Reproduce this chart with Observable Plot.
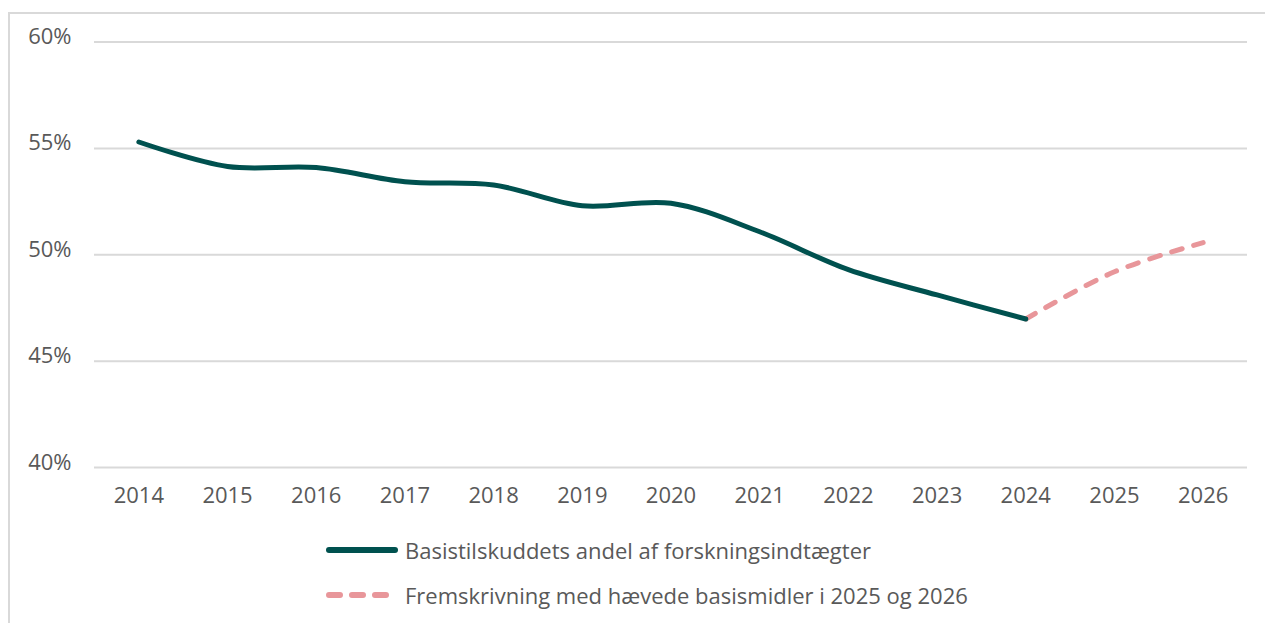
<!DOCTYPE html>
<html>
<head>
<meta charset="utf-8">
<script src="https://cdn.jsdelivr.net/npm/d3@7"></script>
<script src="https://cdn.jsdelivr.net/npm/@observablehq/plot@0.6"></script>
<style>
  html, body { margin: 0; padding: 0; background: #fff; }
  body { width: 1265px; height: 623px; position: relative; overflow: hidden; font-family: "Open Sans", "Liberation Sans", Arial, sans-serif; }
  #frame { position: absolute; left: 8px; top: 12px; width: 1265px; height: 620px; border-left: 2px solid #d9d9d9; border-top: 2px solid #d9d9d9; }
  #chart { position: absolute; left: 0; top: 0; }
  .legend { position: absolute; left: 326px; display: flex; align-items: center; color: #595959; font-size: 22px; line-height: 28px; }
  .legend svg { margin-right: 7px; }
</style>
</head>
<body>
<div id="frame"></div>
<div id="chart"></div>
<div class="legend" id="leg1" style="top: 536px;"></div>
<div class="legend" id="leg2" style="top: 581px;"></div>
<script>
const years = ["2014","2015","2016","2017","2018","2019","2020","2021","2022","2023","2024","2025","2026"];
const actualYears = ["2014","2015","2016","2017","2018","2019","2020","2021","2022","2023","2024"];
const actualValues = [55.3, 54.15, 54.1, 53.43, 53.28, 52.3, 52.42, 51.08, 49.3, 48.11, 46.98];
const projYears = ["2024","2025","2026"];
const projValues = [46.98, 49.2, 50.57];
const yTicks = [40, 45, 50, 55, 60];
const seriesNames = ["Basistilskuddets andel af forskningsindtægter", "Fremskrivning med hævede basismidler i 2025 og 2026"];
const colors = ["#00514f", "#e8969a"];

const actual = actualYears.map((y, i) => ({year: y, value: actualValues[i]}));
const proj = projYears.map((y, i) => ({year: y, value: projValues[i]}));

const chart = Plot.plot({
  width: 1265,
  height: 520,
  marginTop: 41.5,
  marginBottom: 53,
  marginLeft: 94,
  marginRight: 18,
  style: {fontFamily: "'Open Sans', 'Liberation Sans', Arial, sans-serif", fontSize: "22px", color: "#595959", background: "transparent"},
  x: {type: "point", domain: years, padding: 0.5, round: false},
  y: {domain: [40, 60]},
  marks: [
    Plot.ruleY(yTicks, {stroke: "#d9d9d9", strokeWidth: 2}),
    Plot.axisY(yTicks, {tickSize: 0, tickPadding: 23, dy: -5, tickFormat: d => d + "%", label: null, fill: "#595959"}),
    Plot.axisX({tickSize: 0, tickPadding: 20, label: null, fill: "#595959"}),
    Plot.line(proj, {x: "year", y: "value", stroke: colors[1], strokeWidth: 5, strokeDasharray: "11,12", strokeLinecap: "round", curve: "catmull-rom"}),
    Plot.line(actual, {x: "year", y: "value", stroke: colors[0], strokeWidth: 5, strokeLinecap: "round", curve: "catmull-rom"})
  ]
});
document.getElementById("chart").appendChild(chart);

function legendItem(el, name, color, dashed) {
  const ns = "http://www.w3.org/2000/svg";
  const svg = document.createElementNS(ns, "svg");
  svg.setAttribute("width", 72); svg.setAttribute("height", 10);
  const line = document.createElementNS(ns, "line");
  line.setAttribute("x1", 3); line.setAttribute("x2", 69);
  line.setAttribute("y1", 5); line.setAttribute("y2", 5);
  line.setAttribute("stroke", color); line.setAttribute("stroke-width", 6);
  line.setAttribute("stroke-linecap", "round");
  if (dashed) line.setAttribute("stroke-dasharray", "11,12");
  svg.appendChild(line);
  el.appendChild(svg);
  const span = document.createElement("span");
  span.textContent = name;
  el.appendChild(span);
}
legendItem(document.getElementById("leg1"), seriesNames[0], colors[0], false);
legendItem(document.getElementById("leg2"), seriesNames[1], colors[1], true);
</script>
</body>
</html>
